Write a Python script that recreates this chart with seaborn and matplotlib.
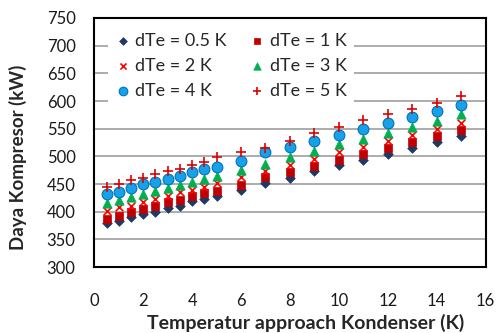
import matplotlib
matplotlib.use("Agg")
import matplotlib.pyplot as plt
import seaborn as sns
import pandas as pd

x_vals = [0.5, 1, 1.5, 2, 2.5, 3, 3.5, 4, 4.5, 5, 6, 7, 8, 9, 10, 11, 12, 13, 14, 15]
dte_05 = [379, 383, 390, 395, 400, 406, 411, 419, 423, 429, 439, 451, 461, 473, 484, 494, 505, 516, 526, 537]
dte_1 = [387, 393, 399, 405, 411, 417, 421, 429, 433, 438, 449, 462, 471, 483, 494, 505, 516, 526, 537, 547]
dte_2 = [402, 408, 411, 417, 423, 429, 435, 439, 445, 451, 463, 474, 485, 495, 507, 517, 528, 539, 549, 560]
dte_3 = [415, 421, 426, 432, 437, 442, 448, 454, 459, 465, 476, 487, 499, 510, 522, 532, 543, 553, 564, 576]
dte_4 = [432, 436, 443, 450, 454, 460, 464, 471, 477, 481, 492, 507, 517, 528, 539, 549, 561, 571, 582, 593]
dte_5 = [444, 450, 457, 461, 468, 474, 478, 485, 489, 498, 507, 516, 528, 543, 553, 565, 576, 586, 597, 609]
labels = ["dTe = 0.5 K", "dTe = 1 K", "dTe = 2 K", "dTe = 3 K", "dTe = 4 K", "dTe = 5 K"]
x_ticks = [0, 2, 4, 6, 8, 10, 12, 14, 16]
y_ticks = [300, 350, 400, 450, 500, 550, 600, 650, 700, 750]

series = [dte_05, dte_1, dte_2, dte_3, dte_4, dte_5]
rows = []
for lab, vals in zip(labels, series):
    for xv, yv in zip(x_vals, vals):
        rows.append({"x": xv, "y": yv, "series": lab})
df = pd.DataFrame(rows)

sns.set_style("white")
plt.rcParams["font.family"] = ["Lato", "DejaVu Sans"]

styles = {
    "dTe = 0.5 K": dict(marker="D", color="#1F3864", edgecolor="#1F3864", s=24, linewidth=0.5),
    "dTe = 1 K": dict(marker="s", color="#C00000", edgecolor="#C00000", s=36, linewidth=0.5),
    "dTe = 2 K": dict(marker="x", color="#FF0000", s=30, linewidth=1.2),
    "dTe = 3 K": dict(marker="^", color="#00B050", edgecolor="#00B050", s=45, linewidth=0.5),
    "dTe = 4 K": dict(marker="o", color="#17A2E8", edgecolor="#0070C0", s=60, linewidth=0.8),
    "dTe = 5 K": dict(marker="+", color="#E00000", s=60, linewidth=1.2),
}

fig = plt.figure(figsize=(4.99, 3.33), dpi=100)
ax = fig.add_axes([0.189, 0.198, 0.784, 0.748])

for lab in labels:
    sub = df[df["series"] == lab]
    sns.scatterplot(data=sub, x="x", y="y", ax=ax, label=lab, zorder=3, **styles[lab])

ax.set_xlim(0, 16)
ax.set_ylim(300, 750)
ax.set_xticks(x_ticks)
ax.set_yticks(y_ticks)
ax.tick_params(axis="both", labelsize=12, direction="out", length=5, width=1.2,
               color="black", labelcolor="#1a1a1a")
ax.tick_params(axis="x", pad=14)
ax.tick_params(axis="y", pad=8.5)
ax.yaxis.grid(True, color="#A6A6A6", linewidth=1.3)
ax.xaxis.grid(False)
ax.set_axisbelow(True)
for sp in ax.spines.values():
    sp.set_color("black")
    sp.set_linewidth(1.5)

ax.set_xlabel("Temperatur approach Kondenser (K)", fontsize=14, fontweight="bold")
ax.set_ylabel("Daya Kompresor (kW)", fontsize=13.5, fontweight="bold")
ax.xaxis.set_label_coords(0.54, -0.188)
ax.yaxis.set_label_coords(-0.172, 0.44)

handles, labs = ax.get_legend_handles_labels()
order = [0, 2, 4, 1, 3, 5]
leg = ax.legend([handles[i] for i in order], [labs[i] for i in order], ncol=2,
                loc="upper left", bbox_to_anchor=(0.036, 0.968), borderaxespad=0,
                frameon=True, fancybox=False,
                fontsize=13, handletextpad=0.3, columnspacing=1.28, labelspacing=0.5,
                borderpad=0.4, handlelength=0.8, markerscale=0.8)
leg.get_frame().set_facecolor("white")
leg.get_frame().set_edgecolor("none")
leg.get_frame().set_alpha(1)
leg.set_zorder(5)

fig.savefig("out.png", dpi=100)
